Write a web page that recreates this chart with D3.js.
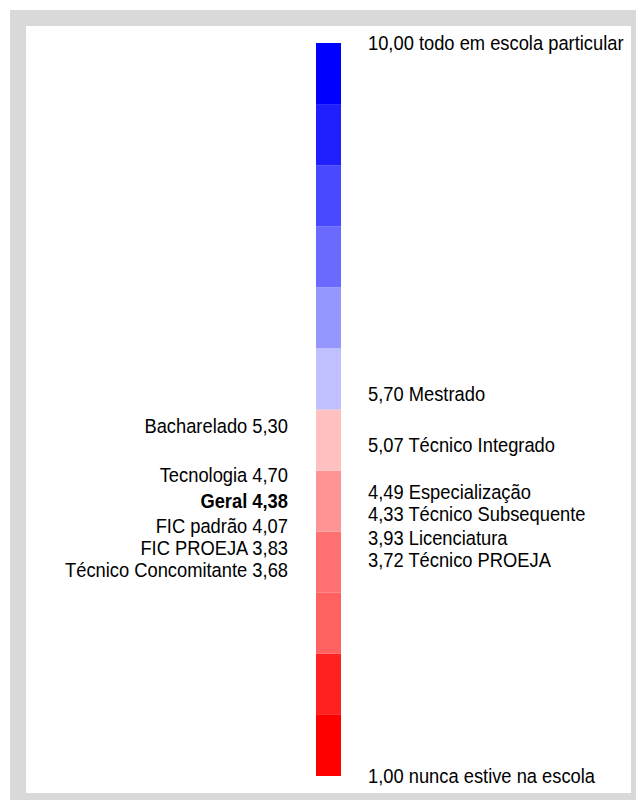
<!DOCTYPE html>
<html>
<head>
<meta charset="utf-8">
<script src="https://cdn.jsdelivr.net/npm/d3@7"></script>
<style>
  body { margin: 0; background: #fff; }
  text { font-family: "Liberation Sans", Arial, sans-serif; fill: #000; }
</style>
</head>
<body>
<div class="chart"></div>
<script>
var svgWidth = 636;
var svgHeight = 800;

// scale ends (value 1 at the bottom, 10 at the top)
var scaleMin = 1;
var scaleMax = 10;

// 12 colour bands, from the lowest value to the highest
var bandColors = ["#ff0000", "#ff2020", "#ff6060", "#ff7070", "#ff9494", "#ffc0c0",
                  "#c0c0ff", "#9696ff", "#6a6aff", "#4848ff", "#2020ff", "#0000ff"];

// labels on the right of the bar
var rightNames = ["todo em escola particular", "Mestrado", "Técnico Integrado", "Especialização",
                  "Técnico Subsequente", "Licenciatura", "Técnico PROEJA", "nunca estive na escola"];
var rightValues = [10.00, 5.70, 5.07, 4.49, 4.33, 3.93, 3.72, 1.00];

// labels on the left of the bar
var leftNames = ["Bacharelado", "Tecnologia", "Geral", "FIC padrão", "FIC PROEJA", "Técnico Concomitante"];
var leftValues = [5.30, 4.70, 4.38, 4.07, 3.83, 3.68];

var boldName = "Geral";

var ptBR = d3.formatLocale({ decimal: ",", thousands: ".", grouping: [3], currency: ["R$", ""] });
var fmt = ptBR.format(".2f");

var svg = d3.select(".chart")
  .append("svg")
  .attr("width", svgWidth)
  .attr("height", svgHeight);

// grey frame
svg.append("rect")
  .attr("x", 10).attr("y", 10)
  .attr("width", svgWidth - 10).attr("height", svgHeight - 10)
  .attr("fill", "#d9d9d9");
svg.append("rect")
  .attr("x", 26).attr("y", 26)
  .attr("width", 605).attr("height", 767)
  .attr("fill", "#fff");

var barX = 316, barW = 25;

var y = d3.scaleLinear()
  .domain([scaleMin, scaleMax])
  .range([776, 43]);

var color = d3.scaleQuantize()
  .domain([scaleMin, scaleMax])
  .range(bandColors);

svg.append("g").selectAll("rect")
  .data(color.range())
  .enter()
  .append("rect")
  .attr("x", barX)
  .attr("width", barW)
  .attr("y", function(c) { return y(color.invertExtent(c)[1]); })
  .attr("height", function(c) {
    var e = color.invertExtent(c);
    return y(e[0]) - y(e[1]);
  })
  .attr("fill", function(c) { return c; });

// push labels down so they don't overlap
function spread(values, gap) {
  var out = [];
  values.forEach(function(v, i) {
    var p = y(v);
    if (i > 0 && p < out[i - 1] + gap) p = out[i - 1] + gap;
    out.push(p);
  });
  return out;
}

var fontSize = 19.5;
var squeeze = 0.94;

var rightPos = spread(rightValues, 22);
svg.append("g").selectAll("text")
  .data(rightNames)
  .enter()
  .append("text")
  .attr("transform", function(d, i) { return "translate(368," + rightPos[i] + ") scale(" + squeeze + ",1)"; })
  .attr("dy", "0.38em")
  .attr("font-size", fontSize)
  .text(function(d, i) { return fmt(rightValues[i]) + " " + d; });

var leftPos = spread(leftValues, 22);
svg.append("g").selectAll("text")
  .data(leftNames)
  .enter()
  .append("text")
  .attr("transform", function(d, i) { return "translate(288," + leftPos[i] + ") scale(" + squeeze + ",1)"; })
  .attr("dy", "0.38em")
  .attr("text-anchor", "end")
  .attr("font-size", fontSize)
  .attr("font-weight", function(d) { return d === boldName ? "bold" : "normal"; })
  .text(function(d, i) { return d + " " + fmt(leftValues[i]); });
</script>
</body>
</html>
